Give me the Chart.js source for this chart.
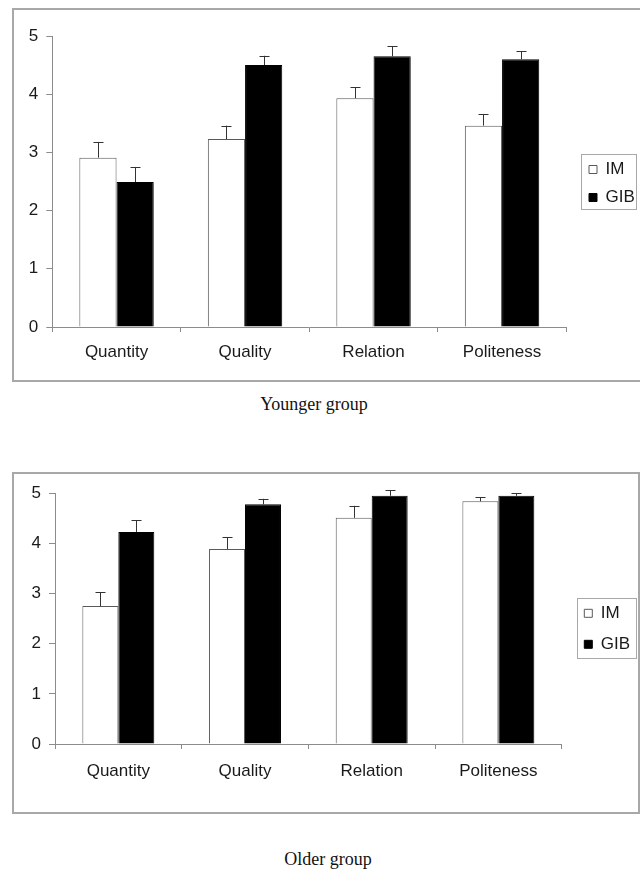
<!DOCTYPE html>
<html>
<head>
<meta charset="utf-8">
<script src="https://cdn.jsdelivr.net/npm/chart.js@4.4.1/dist/chart.umd.min.js"></script>
<style>
    body{margin:0;background:#fff;width:640px;height:870px;overflow:hidden;position:relative;}
    .frame{position:absolute;border:2px solid #a8a8a8;box-sizing:border-box;}
    #frameTop{left:12px;top:8px;width:640px;height:374px;}
    #frameBottom{left:12px;top:472px;width:628px;height:342px;}
    canvas{position:absolute;}
    #younger{left:14px;top:10px;}
    #older{left:14px;top:474px;}
    .caption{position:absolute;transform:translateX(-50%);white-space:nowrap;
        font-family:"Liberation Serif","Times New Roman",serif;font-size:18px;color:#111;}
</style>
</head>
<body>
<div class="frame" id="frameTop"></div>
<div class="frame" id="frameBottom"></div>
<canvas id="younger" width="624" height="370"></canvas>
<canvas id="older" width="624" height="338"></canvas>
<div class="caption" style="left:314px;top:394px;">Younger group</div>
<div class="caption" style="left:328px;top:849px;">Older group</div>

<script>
// data (mean scores, error = upper SE bar)
const categories = ['Quantity', 'Quality', 'Relation', 'Politeness'];
const seriesNames = ['IM', 'GIB'];
const yTicks = [0, 1, 2, 3, 4, 5];

const youngerIM = [2.91, 3.23, 3.93, 3.46];
const youngerIMErr = [0.27, 0.23, 0.19, 0.20];
const youngerGIB = [2.49, 4.50, 4.65, 4.60];
const youngerGIBErr = [0.26, 0.16, 0.17, 0.14];

const olderIM = [2.75, 3.89, 4.51, 4.84];
const olderIMErr = [0.28, 0.23, 0.24, 0.08];
const olderGIB = [4.23, 4.78, 4.95, 4.95];
const olderGIBErr = [0.23, 0.11, 0.11, 0.05];

const axisColor = '#8c8c8c';
const textColor = '#1a1a1a';
const labelFont = {family: '"Liberation Sans", Arial, sans-serif', size: 17};

// draws the upward error bar with a cap on each bar
const errorBars = {
    id: 'errorBars',
    afterDatasetsDraw(chart, args, opts) {
        const ctx = chart.ctx;
        const yScale = chart.scales.y;
        chart.data.datasets.forEach((ds, i) => {
            const meta = chart.getDatasetMeta(i);
            meta.data.forEach((bar, j) => {
                const top = yScale.getPixelForValue(ds.data[j] + ds.errors[j]);
                const x = Math.round(bar.x) + 0.5;
                ctx.save();
                ctx.strokeStyle = opts.color;
                ctx.lineWidth = 1;
                ctx.beginPath();
                ctx.moveTo(x, bar.y);
                ctx.lineTo(x, top);
                ctx.moveTo(x - opts.cap / 2, Math.round(top) + 0.5);
                ctx.lineTo(x + opts.cap / 2, Math.round(top) + 0.5);
                ctx.stroke();
                ctx.restore();
            });
        });
    }
};

// moves the legend next to the plot and draws the box round it
const legendBox = {
    id: 'legendBox',
    afterLayout(chart, args, opts) {
        const lg = chart.legend;
        const w = lg.width, h = lg.height;
        lg.left = opts.left;
        lg.top = opts.top;
        lg.right = opts.left + w;
        lg.bottom = opts.top + h;
    },
    afterDraw(chart, args, opts) {
        const ctx = chart.ctx;
        const lg = chart.legend;
        ctx.save();
        ctx.strokeStyle = opts.color;
        ctx.lineWidth = 1;
        ctx.strokeRect(Math.round(lg.left + opts.box[0]) + 0.5, Math.round(lg.top + opts.box[1]) + 0.5, opts.box[2], opts.box[3]);
        ctx.restore();
    }
};

function buildChart(canvasId, im, imErr, gib, gibErr, cfg) {
    return new Chart(document.getElementById(canvasId), {
        type: 'bar',
        data: {
            labels: categories,
            datasets: [{
                label: seriesNames[0],
                data: im,
                errors: imErr,
                backgroundColor: '#ffffff',
                borderColor: '#595959',
                borderWidth: 1
            }, {
                label: seriesNames[1],
                data: gib,
                errors: gibErr,
                backgroundColor: '#000000',
                borderColor: '#000000',
                borderWidth: 1
            }]
        },
        options: {
            responsive: false,
            animation: false,
            devicePixelRatio: 1,
            datasets: {
                bar: {barPercentage: 1, categoryPercentage: cfg.catPct}
            },
            layout: {
                padding: {top: cfg.padTop, right: cfg.padRight, left: 0, bottom: 0}
            },
            scales: {
                x: {
                    grid: {drawOnChartArea: false, drawTicks: true, tickLength: 5, color: axisColor, offset: true},
                    border: {color: axisColor, width: 1},
                    ticks: {font: labelFont, color: textColor, padding: cfg.xPad, maxRotation: 0},
                    afterFit: (s) => { s.height = cfg.xHeight; }
                },
                y: {
                    min: yTicks[0],
                    max: yTicks[yTicks.length - 1],
                    afterBuildTicks: (s) => { s.ticks = yTicks.map(v => ({value: v})); },
                    grid: {drawOnChartArea: false, drawTicks: true, tickLength: 6, color: axisColor},
                    border: {color: axisColor, width: 1},
                    ticks: {font: labelFont, color: textColor, padding: 8},
                    afterFit: (s) => { s.width = cfg.yWidth; }
                }
            },
            plugins: {
                tooltip: {enabled: false},
                legend: {
                    position: 'chartArea',
                    align: 'start',
                    labels: {
                        font: labelFont,
                        color: textColor,
                        boxWidth: 8,
                        boxHeight: 8,
                        padding: cfg.legendPad
                    }
                },
                errorBars: {color: '#333333', cap: 10},
                legendBox: {left: cfg.legendLeft, top: cfg.legendTop, box: cfg.legendRect, color: '#a8a8a8'}
            }
        },
        plugins: [errorBars, legendBox]
    });
}

buildChart('younger', youngerIM, youngerIMErr, youngerGIB, youngerGIBErr, {
    catPct: 0.579, padTop: 26, padRight: 71.7, xHeight: 53, yWidth: 38.3, xPad: 10,
    legendPad: 11, legendLeft: 564, legendTop: 140, legendRect: [3, 4, 55, 55]
});

buildChart('older', olderIM, olderIMErr, olderGIB, olderGIBErr, {
    catPct: 0.568, padTop: 19.3, padRight: 76.3, xHeight: 68, yWidth: 41, xPad: 12,
    legendPad: 14, legendLeft: 556.3, legendTop: 116.8, legendRect: [6.4, 7.5, 59, 60]
});
</script>
</body>
</html>
